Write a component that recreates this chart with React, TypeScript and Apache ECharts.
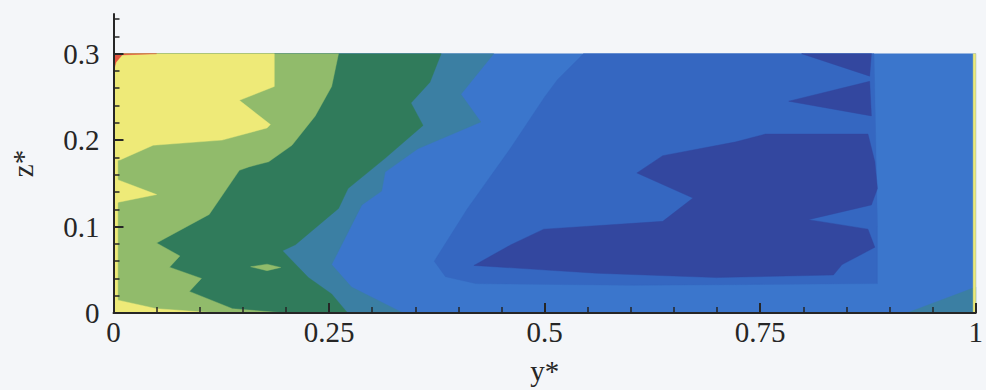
import { useEffect, useRef } from 'react';
import * as echarts from 'echarts';

// Axis ticks / labels
const X_TICK_LABELS = ['0', '0.25', '0.5', '0.75', '1'];
const Y_MAJOR = [0, 0.1, 0.2, 0.3];
const Y_MINOR = [0.02, 0.04, 0.06, 0.08, 0.12, 0.14, 0.16, 0.18, 0.22, 0.24, 0.26, 0.28, 0.32, 0.34];

// Contour level fill colours (high -> low)
const LEVEL_COLORS: Record<string, string> = {
  L8: '#e2553f',
  L7: '#eeea78',
  L6: '#91bb6b',
  L5: '#307b5b',
  L4: '#3b7fa3',
  L3: '#3b76cc',
  L2: '#3567c1',
  L1: '#33479f',
};

// Iso-band outlines in (y*, z*) coordinates
const DOMAIN = [[0, 0], [1, 0], [1, 0.3], [0, 0.3]];
const L2_REGION = [[0.545, 0.3], [0.882, 0.3], [0.884, 0.2], [0.886, 0.1], [0.886, 0.034], [0.6, 0.032], [0.42, 0.034], [0.385, 0.042], [0.372, 0.06], [0.41, 0.12], [0.46, 0.19], [0.5, 0.25], [0.515, 0.27]];
const L1_LOWER = [[0.418, 0.055], [0.461, 0.079], [0.499, 0.097], [0.637, 0.106], [0.672, 0.133], [0.607, 0.162], [0.637, 0.182], [0.722, 0.198], [0.756, 0.207], [0.875, 0.207], [0.883, 0.175], [0.886, 0.144], [0.879, 0.125], [0.806, 0.108], [0.875, 0.097], [0.883, 0.076], [0.845, 0.056], [0.835, 0.044], [0.699, 0.041], [0.56, 0.046]];
const L1_TOP = [[0.798, 0.3], [0.879, 0.3], [0.877, 0.274]];
const L1_WEDGE = [[0.783, 0.245], [0.877, 0.268], [0.879, 0.228]];
const L4_REGION = [[0, 0.3], [0.441, 0.3], [0.403, 0.253], [0.426, 0.221], [0.353, 0.19], [0.315, 0.163], [0.311, 0.141], [0.288, 0.125], [0.253, 0.056], [0.276, 0.03], [0.334, 0.001], [0.336, 0], [0, 0]];
const L4_CORNER = [[0.92, 0], [1, 0.03], [1, 0]];
const L5_REGION = [[0, 0.3], [0.38, 0.3], [0.367, 0.267], [0.345, 0.243], [0.359, 0.217], [0.315, 0.179], [0.272, 0.144], [0.261, 0.121], [0.211, 0.079], [0.196, 0.072], [0.226, 0.041], [0.253, 0.022], [0.269, 0.003], [0.272, 0], [0, 0]];
const L6_REGION = [[0, 0.3], [0.261, 0.3], [0.253, 0.262], [0.234, 0.228], [0.207, 0.194], [0.18, 0.175], [0.157, 0.169], [0.146, 0.165], [0.111, 0.114], [0.05, 0.081], [0.077, 0.066], [0.065, 0.053], [0.102, 0.04], [0.088, 0.025], [0.138, 0.005], [0.2, 0], [0, 0]];
const L6_ISLAND = [[0.159, 0.0535], [0.178, 0.0565], [0.194, 0.0527], [0.178, 0.049]];
const L7_REGION = [[0, 0.3], [0.1865, 0.3], [0.1865, 0.262], [0.146, 0.246], [0.182, 0.218], [0.178, 0.214], [0.126, 0.2], [0.046, 0.194], [0.0075, 0.177], [0, 0.176]];
const L7_LEFT_EDGE = [[0, 0], [0.005, 0], [0.005, 0.3], [0, 0.3]];
const L7_NOTCH = [[0, 0.156], [0.05, 0.137], [0, 0.127]];
const L7_FLOOR = [[0, 0.016], [0.05, 0.005], [0.12, 0], [0, 0]];
const L7_RIGHT_EDGE = [[0.997, 0], [1, 0], [1, 0.3], [0.997, 0.3]];
const L8_CORNER = [[0, 0.3], [0.05, 0.3], [0.01, 0.2985], [0.003, 0.29], [0, 0.28]];

// Painted in order: superlevel sets stacked from low to high
const BANDS: { level: string; pts: number[][] }[] = [
  { level: 'L3', pts: DOMAIN },
  { level: 'L2', pts: L2_REGION },
  { level: 'L1', pts: L1_LOWER },
  { level: 'L1', pts: L1_TOP },
  { level: 'L1', pts: L1_WEDGE },
  { level: 'L4', pts: L4_REGION },
  { level: 'L4', pts: L4_CORNER },
  { level: 'L5', pts: L5_REGION },
  { level: 'L6', pts: L6_REGION },
  { level: 'L6', pts: L6_ISLAND },
  { level: 'L7', pts: L7_REGION },
  { level: 'L7', pts: L7_LEFT_EDGE },
  { level: 'L7', pts: L7_NOTCH },
  { level: 'L7', pts: L7_FLOOR },
  { level: 'L7', pts: L7_RIGHT_EDGE },
  { level: 'L8', pts: L8_CORNER },
];

const FONT = 'Liberation Serif';
const INK = '#262626';

export default function App() {
  const ref = useRef<HTMLDivElement>(null);

  useEffect(() => {
    if (!ref.current) return;
    const chart = echarts.init(ref.current, null, { renderer: 'svg' });
    const yCommon = {
      type: 'value' as const,
      min: 0,
      max: 0.346,
      position: 'left' as const,
      z: 5,
      splitLine: { show: false },
    };
    chart.setOption({
      animation: false,
      backgroundColor: '#f4f6f9',
      grid: { left: 113.5, right: 4.5, top: 13.9, bottom: 74, containLabel: false },
      xAxis: {
        type: 'value',
        min: 0,
        max: 1,
        interval: 0.25,
        z: 5,
        name: 'y*',
        nameLocation: 'middle',
        nameGap: 43,
        nameTextStyle: { fontFamily: FONT, fontSize: 29, color: INK },
        axisLine: { show: true, onZero: false, lineStyle: { color: INK, width: 2 } },
        axisTick: { show: true, inside: true, length: 10, lineStyle: { color: INK, width: 2 } },
        minorTick: { show: true, splitNumber: 5, length: 6, lineStyle: { color: INK, width: 1.5 } },
        splitLine: { show: false },
        minorSplitLine: { show: false },
        axisLabel: {
          fontFamily: FONT,
          fontSize: 29,
          color: INK,
          margin: 4,
          formatter: (v: number) => X_TICK_LABELS[Math.round(v * 4)] ?? '',
        },
      },
      yAxis: [
        {
          ...yCommon,
          name: 'z*',
          nameLocation: 'middle',
          nameGap: 76,
          nameRotate: 90,
          nameTextStyle: { fontFamily: FONT, fontSize: 29, color: INK },
          axisLine: { show: true, onZero: false, lineStyle: { color: INK, width: 2 } },
          axisTick: { show: true, inside: true, length: 10, customValues: Y_MAJOR, lineStyle: { color: INK, width: 2 } },
          axisLabel: {
            customValues: Y_MAJOR,
            fontFamily: FONT,
            fontSize: 29,
            color: INK,
            margin: 14,
            padding: [6, 0, 0, 0],
            formatter: (v: number) => String(v),
          },
        },
        {
          ...yCommon,
          axisLine: { show: false },
          axisTick: { show: true, inside: true, length: 6, customValues: Y_MINOR, lineStyle: { color: INK, width: 1.5 } },
          axisLabel: { show: false },
        },
      ],
      series: [
        {
          type: 'custom',
          coordinateSystem: 'cartesian2d',
          xAxisIndex: 0,
          yAxisIndex: 0,
          silent: true,
          clip: false,
          encode: { x: 0, y: 1 },
          data: BANDS.map((_, i) => [0.5, 0.15, i]),
          renderItem: (_params: any, api: any) => {
            const band = BANDS[api.value(2)];
            const color = LEVEL_COLORS[band.level];
            return {
              type: 'polygon',
              shape: { points: band.pts.map((p) => api.coord(p)) },
              style: { fill: color, stroke: color, lineWidth: 0.4 },
            };
          },
        },
      ],
    });
    return () => chart.dispose();
  }, []);

  return (
    <div
      ref={ref}
      style={{ position: 'fixed', left: 0, top: 0, width: 986, height: 390 }}
    />
  );
}
